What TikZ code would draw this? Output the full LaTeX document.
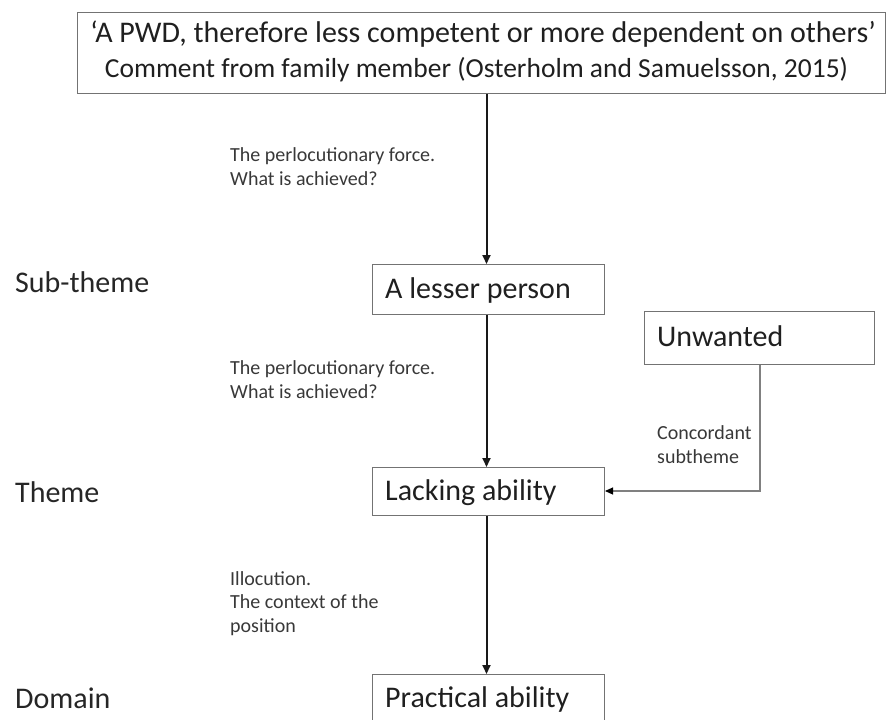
\documentclass[tikz,border=0pt]{standalone}
\usepackage{fontspec}
\setmainfont{Carlito}
\usetikzlibrary{arrows.meta}
\begin{document}
\begin{tikzpicture}[x=1pt,y=-1pt,
  box/.style={draw=black!55,line width=1pt,rectangle,inner sep=0pt,anchor=north west},
  boxtext/.style={anchor=base west,font=\fontsize{30}{34}\selectfont,text=black!88,inner sep=0pt},
  lvl/.style={anchor=base west,font=\fontsize{30}{34}\selectfont,text=black!85,inner sep=0pt},
  lab/.style={anchor=base west,align=left,font=\fontsize{20}{23.5}\selectfont,text=black!78,inner sep=0pt},
  main/.style={draw=black!90,line width=2pt,-{Triangle[length=9pt,width=8pt]}},
  conc/.style={draw=black!50,line width=1.1pt,-{Triangle[length=8pt,width=7pt,color=black]}}
]
\useasboundingbox (0,0) rectangle (887,720);
\coordinate (ax) at (486.5,0);
% top box
\node[box,minimum width=808,minimum height=81] (top) at (77,12) {};
\node[anchor=base,inner sep=0pt,text=black!88,font=\fontsize{30}{34}\selectfont] (q1) at (483,42)
  {‘A PWD, therefore less competent or more dependent on others’};
\node[anchor=base,inner sep=0pt,text=black!88,font=\fontsize{27.5}{32}\selectfont] (q2) at (476.5,77)
  {Comment from family member (Osterholm and Samuelsson, 2015)};
% boxes
\node[box,minimum width=232,minimum height=50] (lesser) at (372,264) {};
\node[boxtext] (tlesser) at (385,298) {A lesser person};
\node[box,minimum width=230,minimum height=53] (unw) at (644,311) {};
\node[boxtext] (tunw) at (657,346) {Unwanted};
\node[box,minimum width=232,minimum height=48] (lack) at (372,467) {};
\node[boxtext] (tlack) at (385,500) {Lacking ability};
\node[box,minimum width=232,minimum height=60] (prac) at (372,674) {};
\node[boxtext] (tprac) at (385,707) {Practical ability};
% level labels
\node[lvl] (sub) at (15,292) {Sub-theme};
\node[lvl] (thm) at (15,502) {Theme};
\node[lvl] (dom) at (15,708) {Domain};
% side labels (base = baseline of last line)
\node[lab] (l1) at (230,185) {The perlocutionary force.\\What is achieved?};
\node[lab] (l2) at (230,398) {The perlocutionary force.\\What is achieved?};
\node[lab] (l3) at (230,632) {Illocution.\\The context of the\\position};
\node[lab] (l4) at (657,463) {Concordant\\subtheme};
% connectors
\draw[main] (top.south -| ax) -- (lesser.north -| ax);
\draw[main] (lesser.south -| ax) -- (lack.north -| ax);
\draw[main] (lack.south -| ax) -- (prac.north -| ax);
\coordinate (bend) at (760,491);
\draw[conc] (unw.south -| bend) -- (bend) -- (lack.east |- bend);
\end{tikzpicture}
\end{document}
